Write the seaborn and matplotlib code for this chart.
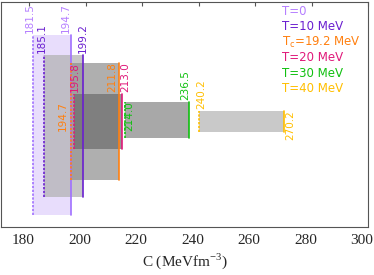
import matplotlib
matplotlib.use("Agg")
import matplotlib.pyplot as plt
import matplotlib.transforms as mtransforms
import seaborn as sns

# Ranges of C (MeV fm^-3) for each temperature
labels = ["T=0", "T=10 MeV", "T$_{\\mathregular{c}}$=19.2 MeV", "T=20 MeV", "T=30 MeV", "T=40 MeV"]
c_low = [181.5, 185.1, 194.7, 195.8, 214.0, 240.2]
c_high = [194.7, 199.2, 211.8, 213.0, 236.5, 270.2]
low_text = ["181.5", "185.1", "194.7", "195.8", "214.0", "240.2"]
high_text = ["194.7", "199.2", "211.8", "213.0", "236.5", "270.2"]
xticks = [180, 200, 220, 240, 260, 280, 300]

# vertical extent of each band (arbitrary units, no y axis shown)
band_bottom = [12, 30, 47, 78, 89, 95]
band_top = [192, 172, 164, 133, 125, 116]

# styles
line_colors = ["#a070ff", "#6a1fd0", "#ff8010", "#e0197a", "#10c010", "#ffbf00"]
text_colors = ["#b57fff", "#6a1fd0", "#ff8010", "#e0197a", "#10c010", "#ffbf00"]
fill_colors = ["#e8ddfc", "#b0b0b0", "#8e8e8e", "#6b6b6b", "#838383", "#b3b3b3"]
fill_alpha = [1.0, 0.7, 0.7, 0.7, 0.7, 0.7]
# label placement: (dx in px from the line, mode)
low_place = [(-4, "above"), (-2, "above"), (-8, "mid"), (1, "above"), (4, "inside"), (2, "above")]
high_place = [(-4.5, "above"), (-1, "above"), (-6.5, "inside"), (2.5, "above"), (-3, "above"), (6, "inside")]

XMIN, XMAX = 170, 300
PX = (XMAX - XMIN) / 367.0

sns.set_style("white")
plt.rcParams["font.family"] = ["DejaVu Sans"]
plt.rcParams["mathtext.fontset"] = "dejavusans"

fig = plt.figure(figsize=(3.74, 2.75), dpi=100)
ax = fig.add_axes([1 / 374, 48 / 275, 367 / 374, 225 / 275])

for i in range(len(labels)):
    h = band_top[i] - band_bottom[i]
    ax.barh(band_bottom[i] + h / 2, c_high[i] - c_low[i], left=c_low[i], height=h,
            color=fill_colors[i], alpha=fill_alpha[i], linewidth=0, zorder=1 + i * 0.01)

for i in range(len(labels)):
    ax.plot([c_low[i], c_low[i]], [band_bottom[i], band_top[i]], color=line_colors[i],
            lw=1.2, linestyle=(0, (1.4, 0.9)), zorder=3)
    ax.plot([c_high[i], c_high[i]], [band_bottom[i], band_top[i]], color=line_colors[i],
            lw=1.2, zorder=3)


def put_label(x, txt, place, i):
    dx, mode = place
    kw = dict(rotation=90, ha="center", color=text_colors[i], fontsize=7.5, zorder=4)
    if mode == "above":
        ax.text(x + dx * PX, band_top[i] + 2, txt, va="bottom", **kw)
    elif mode == "inside":
        ax.text(x + dx * PX, band_top[i] + 1, txt, va="top", **kw)
    else:
        ax.text(x + dx * PX, (band_top[i] + band_bottom[i]) / 2 + 5, txt, va="center", **kw)


for i in range(len(labels)):
    put_label(c_low[i], low_text[i], low_place[i], i)
    put_label(c_high[i], high_text[i], high_place[i], i)

# colored text legend
for i, lab in enumerate(labels):
    ax.text(0.766, 0.958 - i * 0.0685, lab, transform=ax.transAxes, color=text_colors[i],
            fontsize=8.5, va="center", ha="left")

ax.set_xlim(XMIN, XMAX)
ax.set_ylim(0, 225)
ax.set_xticks(xticks)
ax.set_yticks([])
ax.tick_params(axis="x", direction="in", top=True, length=3, width=0.8, color="#555555",
               pad=5, labelsize=11)
shift = mtransforms.ScaledTranslation(-6 / 100, 0, fig.dpi_scale_trans)
for lab in ax.get_xticklabels():
    lab.set_fontfamily("Liberation Serif")
    lab.set_transform(lab.get_transform() + shift)
ax.set_xlabel("C (MeVfm$^{\\mathregular{-3}}$)", fontsize=11, family="Liberation Serif",
              labelpad=3)
for s in ax.spines.values():
    s.set_color("#555555")
    s.set_linewidth(0.8)

fig.savefig("out.png", dpi=100)
